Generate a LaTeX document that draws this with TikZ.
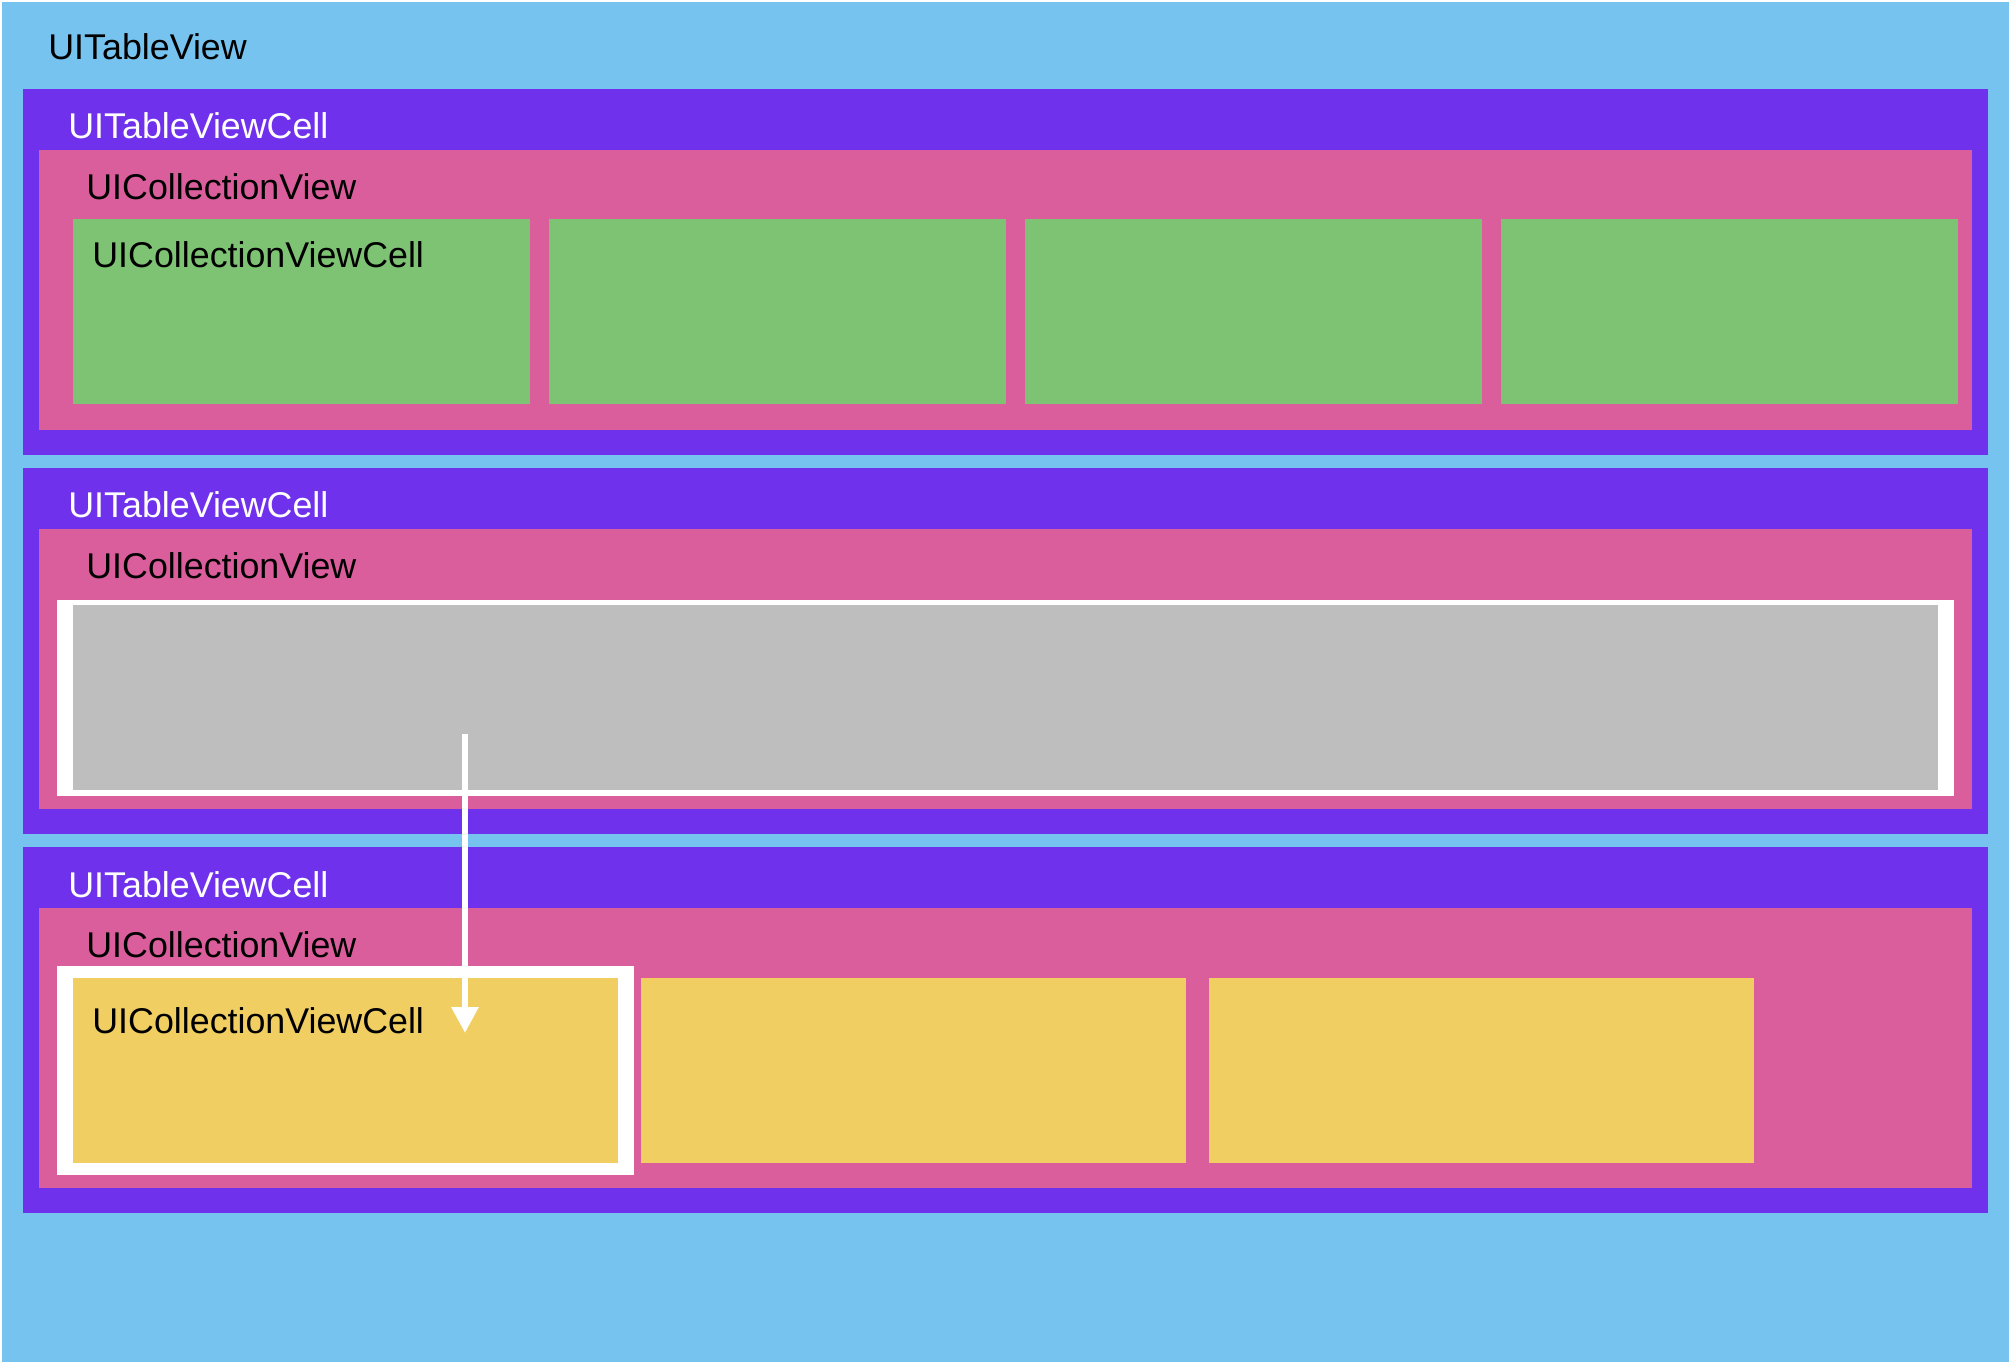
\documentclass[tikz,border=0pt]{standalone}
\usepackage{fontspec}
\setmainfont{Liberation Sans}
\usetikzlibrary{arrows.meta}
\definecolor{tvblue}{RGB}{119,195,240}
\definecolor{cellpurple}{RGB}{112,49,237}
\definecolor{cvpink}{RGB}{218,94,156}
\definecolor{cvgreen}{RGB}{126,195,116}
\definecolor{cvgray}{RGB}{190,190,190}
\definecolor{cvyellow}{RGB}{240,206,97}
\begin{document}
\begin{tikzpicture}[x=0.5pt,y=-0.5pt,
  lbl/.style={anchor=base west, inner sep=0pt, font=\fontsize{17.9}{21}\selectfont},
  whitelbl/.style={lbl, text=white},
  flow/.style={draw=white, line width=3pt, -{Triangle[length=13pt,width=13pt]}}]
\useasboundingbox (0,0) rectangle (2016,1368);
\fill[white] (0,0) rectangle (2016,1368);
\fill[tvblue] (2,2) rectangle (2009,1362);
% table view cells and collection views
\foreach \t in {89,468,847} {
  \fill[cellpurple] (23,\t) rectangle (1988,\t+366);
  \fill[cvpink] (39,\t+61) rectangle (1972,\t+341);
}
% row 1: green cells
\foreach \x in {73,549,1025,1501} {
  \fill[cvgreen] (\x,219) rectangle (\x+457,404);
}
% row 2: highlighted grey cell
\fill[white] (57,600) rectangle (1954,796);
\fill[cvgray] (73,605) rectangle (1938,790);
% row 3: yellow cells
\fill[white] (57,966) rectangle (634,1175);
\fill[cvyellow] (73,978) rectangle (618,1163);
\fill[cvyellow] (641,978) rectangle (1186,1163);
\fill[cvyellow] (1209,978) rectangle (1754,1163);
% labels
\node[lbl] (tv) at (48,60) {UITableView};
\node[whitelbl] (tc1) at (68,139) {UITableViewCell};
\node[whitelbl] (tc2) at (68,518) {UITableViewCell};
\node[whitelbl] (tc3) at (68,897) {UITableViewCell};
\node[lbl] (cv1) at (86,200) {UICollectionView};
\node[lbl] (cv2) at (86,579) {UICollectionView};
\node[lbl] (cv3) at (86,957) {UICollectionView};
\node[lbl] (cc1) at (92,268) {UICollectionViewCell};
\node[lbl] (cc3) at (92,1033) {UICollectionViewCell};
% arrow
\coordinate (arrowstart) at (465,734);
\coordinate (arrowend) at (465,1033);
\draw[flow] (arrowstart) -- (arrowend);
\end{tikzpicture}
\end{document}
